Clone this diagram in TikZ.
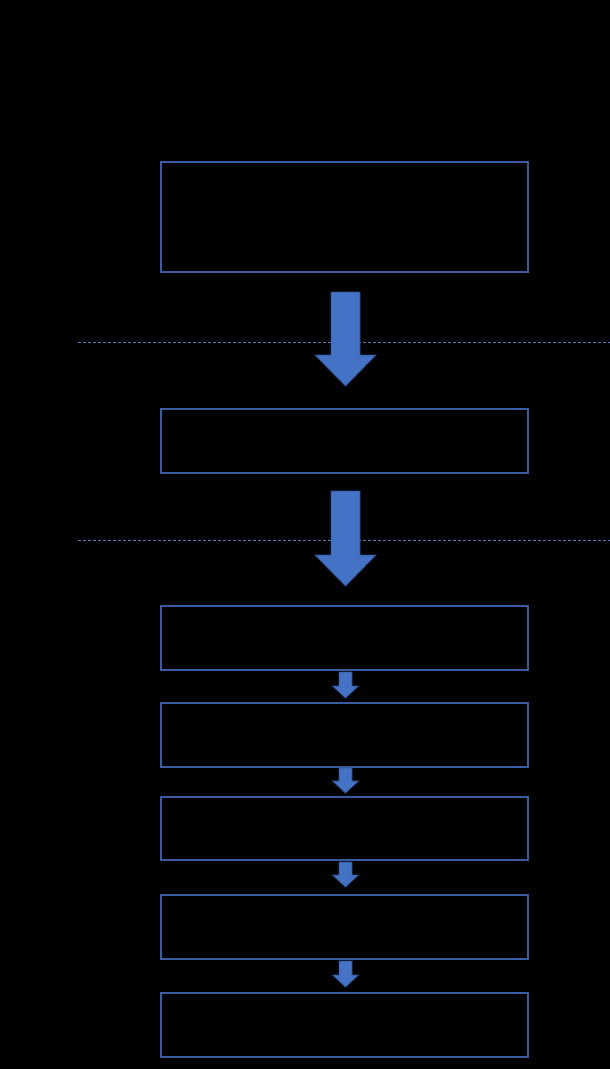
\documentclass[tikz,border=0pt]{standalone}
\begin{document}
\begin{tikzpicture}[x=1pt,y=-1pt,
  stepbox/.style={draw=boxblue,line width=2.6pt},
  bigarrow/.style={fill=arrowblue,draw=arrowedge,line width=0.8pt},
  sepline/.style={draw=lineblue,line width=0.6pt,dash pattern=on 3pt off 2pt}]
\definecolor{boxblue}{HTML}{3A5BA0}
\definecolor{arrowblue}{HTML}{4472C4}
\definecolor{arrowedge}{HTML}{2F528F}
\definecolor{lineblue}{HTML}{5A7AB8}
\fill[black] (0,0) rectangle (610,1069);
\useasboundingbox (0,0) rectangle (610,1069);
% separator lines
\draw[sepline] (78,342) -- (610,342);
\draw[sepline] (78,540) -- (610,540);
% boxes
\draw[stepbox] (161,162) rectangle (528,272) node[pos=.5] (b1) {};
\draw[stepbox] (161,409) rectangle (528,473) node[pos=.5] (b2) {};
\draw[stepbox] (161,606) rectangle (528,670) node[pos=.5] (b3) {};
\draw[stepbox] (161,703) rectangle (528,767) node[pos=.5] (b4) {};
\draw[stepbox] (161,797) rectangle (528,860) node[pos=.5] (b5) {};
\draw[stepbox] (161,895) rectangle (528,959) node[pos=.5] (b6) {};
\draw[stepbox] (161,993) rectangle (528,1057) node[pos=.5] (b7) {};
% big arrows
\draw[bigarrow] (331,292) -- (360,292) -- (360,355) -- (376,355) -- (345.5,386) -- (315,355) -- (331,355) -- cycle;
\draw[bigarrow] (331,491) -- (360,491) -- (360,555) -- (376,555) -- (345.5,586) -- (315,555) -- (331,555) -- cycle;
% small arrows
\foreach \t/\b in {672/698, 768/793, 862/887, 961/987}{
  \pgfmathsetmacro{\m}{\b-12}
  \draw[bigarrow] (339,\t) -- (352,\t) -- (352,\m) -- (358.5,\m) -- (345.5,\b) -- (332.5,\m) -- (339,\m) -- cycle;
}
\end{tikzpicture}
\end{document}
